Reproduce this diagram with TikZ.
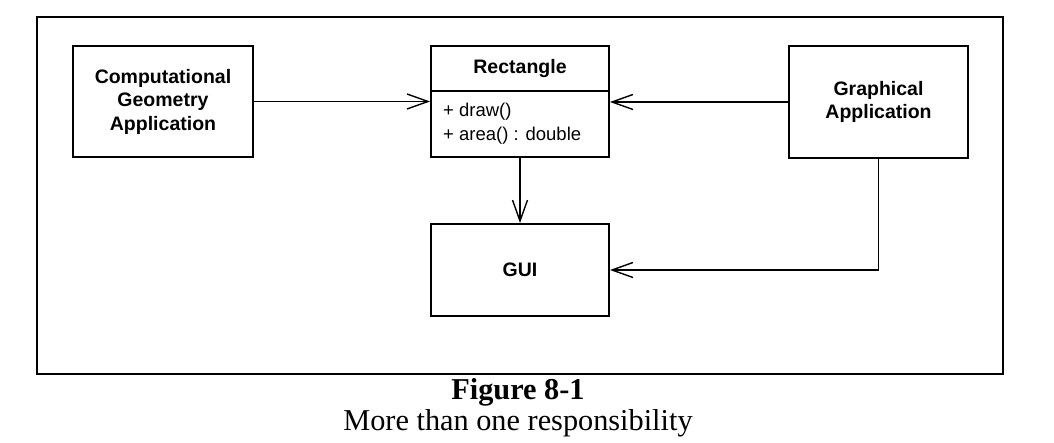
\documentclass[tikz,border=0pt]{standalone}
\usepackage{fontspec}
\setmainfont{Liberation Serif}
\newfontfamily\boxfont{Liberation Sans}
\usetikzlibrary{arrows.meta}
\begin{document}
\begin{tikzpicture}[x=1pt,y=-1pt,
  box/.style={draw, line width=1.8pt, rectangle, inner sep=0pt, align=center,
    font=\boxfont\fontsize{19.5}{23.5}\selectfont\bfseries},
  bodytext/.style={inner sep=0pt, align=left, anchor=west,
    font=\boxfont\fontsize{18.5}{24}\selectfont},
  conn/.style={line width=1.4pt, -{Straight Barb[length=21pt,width=15pt,line width=1.4pt]}},
  capbold/.style={anchor=base, font=\fontsize{30.3}{34}\selectfont\bfseries},
  capreg/.style={anchor=base, font=\fontsize{30.3}{34}\selectfont}]
\useasboundingbox (0,0) rectangle (1054,443);
\draw[line width=2.2pt] (37,17) rectangle (1003,374);
% boxes
\node[box, minimum width=180pt, minimum height=111pt] (cga) at (163,101.5)
  {Computational\\Geometry\\Application};
\node[box, minimum width=178pt, minimum height=45pt] (rtitle) at (520,68.5) {Rectangle};
\node[box, minimum width=178pt, minimum height=66pt] (rbody) at (520,124) {};
\node[bodytext] (rtext) at (443,124) {+ draw()\\+ area() : double};
\node[box, minimum width=179pt, minimum height=112pt] (ga) at (878.5,102)
  {Graphical\\Application};
\node[box, minimum width=178pt, minimum height=92pt] (gui) at (520,270) {GUI};
% connectors
\draw[conn] (cga.east) -- (cga.east -| rbody.west);
\draw[conn] (ga.west) -- (ga.west -| rbody.east);
\draw[conn] (rbody.south) -- (gui.north);
\draw[conn] (ga.south) |- (gui.east);
% caption
\node[capbold] (fig) at (518,399) {Figure 8-1};
\node[capreg] (cap) at (518,430) {More than one responsibility};
\end{tikzpicture}
\end{document}
